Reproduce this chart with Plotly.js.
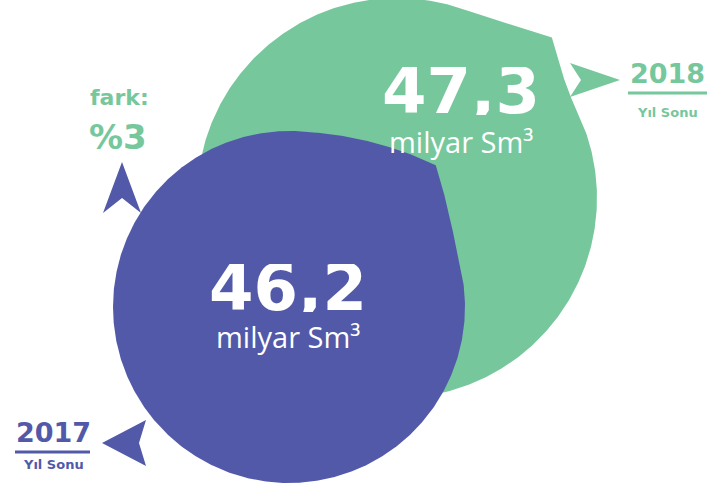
<!DOCTYPE html>
<html>
<head>
<meta charset="utf-8">
<script src="https://cdn.plot.ly/plotly-3.0.1.min.js"></script>
<style>html,body{margin:0;padding:0;background:#fff;}#chart{width:720px;height:492px;}</style>
</head>
<body>
<div id="chart"></div>
<script>
// ---- data ----
const years = ['2017', '2018'];
const values = [46.2, 47.3];
const unitLabel = 'milyar Sm³';
const periodLabel = 'Yıl Sonu';
const diffLabel = 'fark:';
const diffPercent = [3];

// ---- style / layout geometry (pixels, y down) ----
const GREEN = '#77C79C';
const BLUE = '#5259A9';
const colors = [BLUE, GREEN];
// drop geometry: center, radius, tip angle (deg), tip distance, widths (deg)
const drops = [
  {cx: 289, cy: 307, R: 176, tip: -44, D: 204, wTop: 43, wRight: 32},
  {cx: 397, cy: 198, R: 200, tip: -46, D: 223, wTop: 25, wRight: 20}
];

function dropOutline(g) {
  const xs = [], ys = [];
  for (let t = -180; t <= 180; t += 0.5) {
    let d = t - g.tip;
    while (d > 180) d -= 360;
    while (d < -180) d += 360;
    const w = d < 0 ? g.wTop : g.wRight;
    const b = Math.abs(d) < w ? Math.pow(1 - Math.abs(d) / w, 2) : 0;
    const r = g.R + (g.D - g.R) * b;
    const a = t * Math.PI / 180;
    xs.push(g.cx + r * Math.cos(a));
    ys.push(g.cy + r * Math.sin(a));
  }
  return {xs, ys};
}

function arrowPath(tx, ty, angDeg, len, half, notch) {
  const a = angDeg * Math.PI / 180;
  const ux = Math.cos(a), uy = Math.sin(a);
  const px = -uy, py = ux;
  const bx = tx - ux * len, by = ty - uy * len;
  const p1 = [bx + px * half, by + py * half];
  const p2 = [tx - ux * (len - notch), ty - uy * (len - notch)];
  const p3 = [bx - px * half, by - py * half];
  return `M${tx},${ty} L${p1[0]},${p1[1]} L${p2[0]},${p2[1]} L${p3[0]},${p3[1]} Z`;
}

const fmt = v => v.toFixed(1).replace('.', ',');

// draw green (2018) first, blue (2017) on top
const order = [1, 0];
const traces = order.map(i => {
  const o = dropOutline(drops[i]);
  return {
    x: o.xs, y: o.ys, type: 'scatter', mode: 'lines', fill: 'toself',
    fillcolor: colors[i], line: {color: colors[i], width: 0},
    hoverinfo: 'skip', showlegend: false, name: years[i]
  };
});

const BOLD = 'DejaVu Sans';
const REG = 'Open Sans';

const valuePos = [{x: 288, y: 288, uy: 336}, {x: 461, y: 91, uy: 141}];
const labelPos = [{x: 53, y: 432, line: 452, sub: 464, x0: 15, x1: 90},
                  {x: 667, y: 73, line: 93, sub: 112, x0: 628, x1: 707}];

const annotations = [];
const shapes = [];
years.forEach((yr, i) => {
  annotations.push({x: valuePos[i].x, y: valuePos[i].y, xref: 'x', yref: 'y', text: fmt(values[i]),
    showarrow: false, height: 48, valign: 'middle',
    font: {family: BOLD, size: 64, color: '#ffffff', weight: 700}});
  annotations.push({x: valuePos[i].x, y: valuePos[i].uy, xref: 'x', yref: 'y', text: unitLabel,
    showarrow: false, font: {family: REG, size: 29, color: '#ffffff'}});
  const lp = labelPos[i];
  annotations.push({x: lp.x, y: lp.y, xref: 'x', yref: 'y', text: yr,
    showarrow: false, font: {family: BOLD, size: 27, color: colors[i], weight: 700}});
  annotations.push({x: lp.x, y: lp.sub, xref: 'x', yref: 'y', text: periodLabel,
    showarrow: false, font: {family: BOLD, size: 13, color: colors[i], weight: 700}});
  shapes.push({type: 'line', xref: 'x', yref: 'y', x0: lp.x0, x1: lp.x1, y0: lp.line, y1: lp.line,
    line: {color: colors[i], width: 3}});
});
annotations.push({x: 119, y: 97, xref: 'x', yref: 'y', text: diffLabel, showarrow: false,
  font: {family: BOLD, size: 22, color: GREEN, weight: 700}});
annotations.push({x: 118, y: 137, xref: 'x', yref: 'y', text: '%' + diffPercent[0], showarrow: false,
  font: {family: BOLD, size: 34, color: GREEN, weight: 700}});

// arrows
shapes.push({type: 'path', xref: 'x', yref: 'y', path: arrowPath(122, 162, -90, 51, 19, 15),
  fillcolor: BLUE, line: {width: 0}});
shapes.push({type: 'path', xref: 'x', yref: 'y', path: arrowPath(620, 80, 0, 50, 17, 11),
  fillcolor: GREEN, line: {width: 0}});
shapes.push({type: 'path', xref: 'x', yref: 'y', path: arrowPath(102, 443, 180, 44, 23, 7),
  fillcolor: BLUE, line: {width: 0}});

const layout = {
  width: 720, height: 492,
  margin: {l: 0, r: 0, t: 0, b: 0},
  paper_bgcolor: '#ffffff', plot_bgcolor: '#ffffff',
  xaxis: {range: [0, 720], visible: false, fixedrange: true},
  yaxis: {range: [492, 0], visible: false, fixedrange: true},
  annotations, shapes, showlegend: false
};

Plotly.newPlot('chart', traces, layout, {staticPlot: true, displayModeBar: false});
</script>
</body>
</html>
